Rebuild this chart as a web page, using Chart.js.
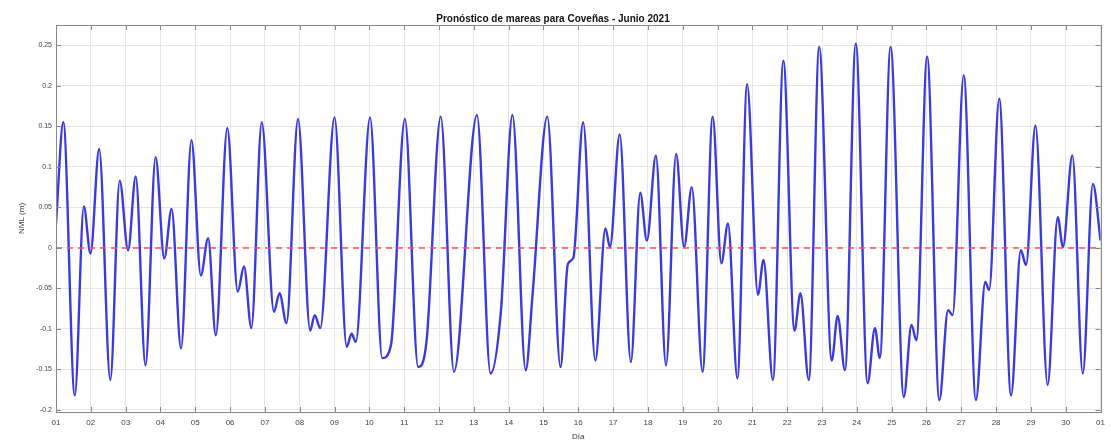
<!DOCTYPE html>
<html>
<head>
<meta charset="utf-8">
<title>Pronóstico de mareas - Coveñas</title>
<script src="https://cdn.jsdelivr.net/npm/chart.js@4/dist/chart.umd.min.js"></script>
<style>
    html, body { margin: 0; padding: 0; background: #fff; }
    #wrap { width: 1111px; height: 444px; }
</style>
</head>
<body>
<div id="wrap"><canvas id="tideChart" width="1111" height="444"></canvas></div>
<script>
// Textos
const chartTitle = 'Pronóstico de mareas para Coveñas - Junio 2021';
const xTitle = 'Día';
const yTitle = 'NML (m)';

// Ejes
const dayTicks = [1, 2, 3, 4, 5, 6, 7, 8, 9, 10, 11, 12, 13, 14, 15, 16, 17, 18, 19, 20, 21, 22, 23, 24, 25, 26, 27, 28, 29, 30, 31];
const dayLabels = ['01', '02', '03', '04', '05', '06', '07', '08', '09', '10', '11', '12', '13', '14', '15', '16',
    '17', '18', '19', '20', '21', '22', '23', '24', '25', '26', '27', '28', '29', '30', '01'];
const levelTicks = [-0.2, -0.15, -0.1, -0.05, 0, 0.05, 0.1, 0.15, 0.2, 0.25];
const levelLabels = ['-0.2', '-0.15', '-0.1', '-0.05', '0', '0.05', '0.1', '0.15', '0.2', '0.25'];
const levelMin = -0.2025;
const levelMax = 0.275;

// Pleamares / bajamares (día del mes, nivel en m)
const tideTimes = [
    1.00, 1.21, 1.54, 1.80, 1.99, 2.24, 2.56, 2.83, 3.07, 3.29, 3.57, 3.86, 4.11, 4.32, 4.59, 4.89,
    5.16, 5.37, 5.59, 5.92, 6.22, 6.40, 6.61, 6.91, 7.26, 7.42, 7.62, 7.95, 8.30, 8.43, 8.59, 9.00,
    9.35, 9.49, 9.61, 10.02, 10.37, 10.62, 11.02, 11.40, 11.64, 12.05, 12.43, 13.09, 13.48, 13.78,
    14.11, 14.49, 14.69, 15.11, 15.49, 15.70, 15.86, 16.14, 16.49, 16.78, 16.91, 17.19, 17.51, 17.78,
    17.97, 18.23, 18.52, 18.81, 19.04, 19.26, 19.57, 19.86, 20.11, 20.30, 20.57, 20.85, 21.16, 21.32,
    21.59, 21.89, 22.21, 22.38, 22.62, 22.92, 23.28, 23.45, 23.66, 23.97, 24.31, 24.52, 24.66, 24.97,
    25.35, 25.57, 25.71, 26.02, 26.37, 26.62, 26.75, 27.07, 27.42, 27.69, 27.80, 28.09, 28.43, 28.71,
    28.86, 29.13, 29.48, 29.77, 29.92, 30.19, 30.49, 30.78, 31.00
];
const tideLevels = [
    0.030, 0.155, -0.182, 0.051, -0.007, 0.122, -0.163, 0.083, -0.003, 0.088, -0.145, 0.112, -0.013, 0.048, -0.124, 0.133,
    -0.034, 0.012, -0.108, 0.148, -0.054, -0.023, -0.099, 0.155, -0.079, -0.056, -0.093, 0.159, -0.102, -0.083, -0.099, 0.161,
    -0.122, -0.106, -0.116, 0.161, -0.136, -0.120, 0.159, -0.147, -0.116, 0.162, -0.153, 0.164, -0.155, -0.077,
    0.164, -0.151, -0.056, 0.162, -0.147, -0.020, -0.012, 0.155, -0.139, 0.024, 0.001, 0.140, -0.141, 0.068,
    0.009, 0.114, -0.145, 0.116, 0.001, 0.075, -0.153, 0.162, -0.019, 0.030, -0.161, 0.202, -0.058, -0.015,
    -0.163, 0.231, -0.102, -0.056, -0.163, 0.248, -0.139, -0.084, -0.151, 0.252, -0.167, -0.099, -0.136, 0.248,
    -0.184, -0.095, -0.114, 0.236, -0.188, -0.077, -0.083, 0.213, -0.188, -0.042, -0.052, 0.184, -0.182, -0.003,
    -0.021, 0.151, -0.169, 0.038, 0.001, 0.114, -0.155, 0.079, 0.009
];

// Nivel de referencia (línea roja)
const refTimes = [1, 31];
const refLevels = [0, 0];

const tidePoints = tideTimes.map((t, i) => ({ x: t, y: tideLevels[i] }));
const refPoints = refTimes.map((t, i) => ({ x: t, y: refLevels[i] }));

// Marco y ticks hacia adentro (estilo MATLAB)
const boxPlugin = {
    id: 'box',
    afterDraw(chart) {
        const { ctx, chartArea: a, scales } = chart;
        ctx.save();
        ctx.strokeStyle = '#8a8a8a';
        ctx.lineWidth = 1;
        ctx.beginPath();
        dayTicks.forEach(d => {
            const px = Math.round(scales.x.getPixelForValue(d)) + 0.5;
            ctx.moveTo(px, a.bottom); ctx.lineTo(px, a.bottom - 5);
            ctx.moveTo(px, a.top); ctx.lineTo(px, a.top + 5);
        });
        levelTicks.forEach(v => {
            const py = Math.round(scales.y.getPixelForValue(v)) + 0.5;
            ctx.moveTo(a.left, py); ctx.lineTo(a.left + 5, py);
            ctx.moveTo(a.right, py); ctx.lineTo(a.right - 5, py);
        });
        ctx.stroke();
        ctx.strokeRect(Math.round(a.left) + 0.5, Math.round(a.top) + 0.5, Math.round(a.right - a.left), Math.round(a.bottom - a.top));
        ctx.restore();
    }
};

const ctx = document.getElementById('tideChart').getContext('2d');
new Chart(ctx, {
    type: 'line',
    data: {
        datasets: [
            {
                data: refPoints, borderColor: '#ff4f4f', borderWidth: 1.5, borderDash: [6, 5],
                pointRadius: 0, fill: false
            },
            {
                data: tidePoints, borderColor: 'rgb(58,58,226)', borderWidth: 2.4,
                cubicInterpolationMode: 'monotone', pointRadius: 0, fill: false
            }
        ]
    },
    options: {
        responsive: false, animation: false,
        layout: { padding: { left: 0, right: 5, top: 0, bottom: 0 } },
        plugins: {
            legend: { display: false },
            tooltip: { enabled: false },
            title: {
                display: true, text: chartTitle, color: '#111',
                font: { family: "'Liberation Sans', Arial, sans-serif", size: 10, weight: 'bold' },
                padding: { top: 13, bottom: 0 }
            }
        },
        scales: {
            x: {
                type: 'linear', min: 1, max: 31,
                afterBuildTicks: s => { s.ticks = dayTicks.map(v => ({ value: v })); },
                afterFit: s => { s.height = 32; },
                ticks: {
                    autoSkip: false, maxRotation: 0, padding: 6, color: '#444',
                    font: { family: "'Liberation Sans', Arial, sans-serif", size: 8 },
                    callback: v => dayLabels[dayTicks.indexOf(v)]
                },
                grid: { color: '#e6e6e6', drawTicks: false },
                border: { display: false },
                title: {
                    display: true, text: xTitle, color: '#333',
                    font: { family: "'Liberation Sans', Arial, sans-serif", size: 8 },
                    padding: { top: 0, bottom: 2 }
                }
            },
            y: {
                min: levelMin, max: levelMax,
                afterBuildTicks: s => { s.ticks = levelTicks.map(v => ({ value: v })); },
                afterFit: s => { s.width = 56; },
                ticks: {
                    padding: 4, color: '#444',
                    font: { family: "'Liberation Sans', Arial, sans-serif", size: 7 },
                    callback: v => levelLabels[levelTicks.indexOf(v)]
                },
                grid: { color: '#e6e6e6', drawTicks: false },
                border: { display: false },
                title: {
                    display: true, text: yTitle, color: '#333',
                    font: { family: "'Liberation Sans', Arial, sans-serif", size: 8 },
                    padding: { top: 17, bottom: 0 }
                }
            }
        }
    },
    plugins: [boxPlugin]
});
</script>
</body>
</html>
